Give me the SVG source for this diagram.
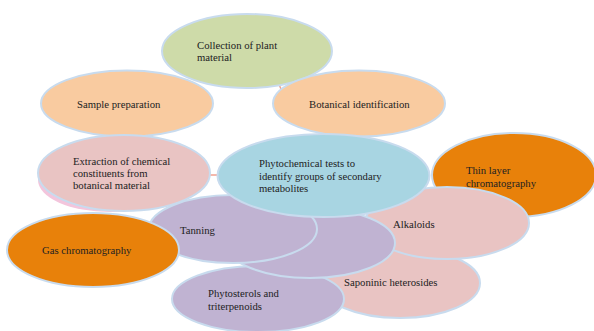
<svg xmlns="http://www.w3.org/2000/svg" width="594" height="331" viewBox="0 0 594 331">
<style>
.n{stroke:#c8dbee;stroke-width:2}
.t{font-family:"Liberation Serif","Times New Roman",serif;font-size:10.7px;fill:#222}
.green{fill:#cedba9}.peach{fill:#f9cba0}.pink{fill:#e9c4c3}.blue{fill:#a8d5e2}.purple{fill:#c0b3d2}.orange{fill:#e8810a}
.c{stroke:#f0a090;stroke-width:1.5;fill:none}
</style>
<rect width="594" height="331" fill="#fff"/>
<g id="connectors">
<line class="c" x1="205" y1="175" x2="222" y2="175"/>
<line class="c" x1="278" y1="82" x2="281" y2="89"/>
</g>
<g id="collection"><ellipse class="n green" cx="247" cy="51" rx="85" ry="37"/>
<text class="t" x="197" y="48.5">Collection of plant</text><text class="t" x="197" y="61">material</text></g>
<g id="botanical"><ellipse class="n peach" cx="359" cy="103.5" rx="86" ry="33"/>
<text class="t" x="309" y="108">Botanical identification</text></g>
<g id="sample"><ellipse class="n peach" cx="127" cy="103.5" rx="86" ry="33"/>
<text class="t" x="77" y="108">Sample preparation</text></g>
<g id="thinlayer"><ellipse class="n orange" cx="514" cy="175" rx="82" ry="42"/>
<text class="t" x="466" y="174">Thin layer</text><text class="t" x="466" y="187">chromatography</text></g>
<g id="saponinic"><ellipse class="n pink" cx="400" cy="283" rx="80" ry="35"/>
<text class="t" x="344" y="286">Saponinic heterosides</text></g>
<g id="alkaloids"><ellipse class="n pink" cx="447" cy="223" rx="82" ry="36"/>
<text class="t" x="393" y="228">Alkaloids</text></g>
<g id="phytosterols"><ellipse class="n purple" cx="258" cy="299" rx="86" ry="33"/>
<text class="t" x="208" y="297">Phytosterols and</text><text class="t" x="208" y="310">triterpenoids</text></g>
<g id="purple-middle"><ellipse class="n purple" cx="310" cy="243" rx="85" ry="35"/></g>
<g id="tanning"><ellipse class="n purple" cx="233" cy="229" rx="84" ry="34"/>
<text class="t" x="180" y="233.5">Tanning</text></g>
<g id="gas"><ellipse class="n orange" cx="93" cy="250" rx="86" ry="37"/>
<text class="t" x="42" y="254">Gas chromatography</text></g>
<g id="extraction"><ellipse cx="110" cy="180" rx="72" ry="32" fill="#f3c5dc"/>
<ellipse class="n pink" cx="124" cy="173" rx="86" ry="38"/>
<text class="t" x="73" y="165">Extraction of chemical</text><text class="t" x="73" y="177">constituents from</text><text class="t" x="73" y="189">botanical material</text></g>
<g id="phytochemical"><ellipse class="n blue" cx="323.5" cy="175.5" rx="106" ry="41.5"/>
<text class="t" x="259" y="167">Phytochemical tests to</text><text class="t" x="259" y="179.5">identify groups of secondary</text><text class="t" x="259" y="192">metabolites</text></g>
</svg>
